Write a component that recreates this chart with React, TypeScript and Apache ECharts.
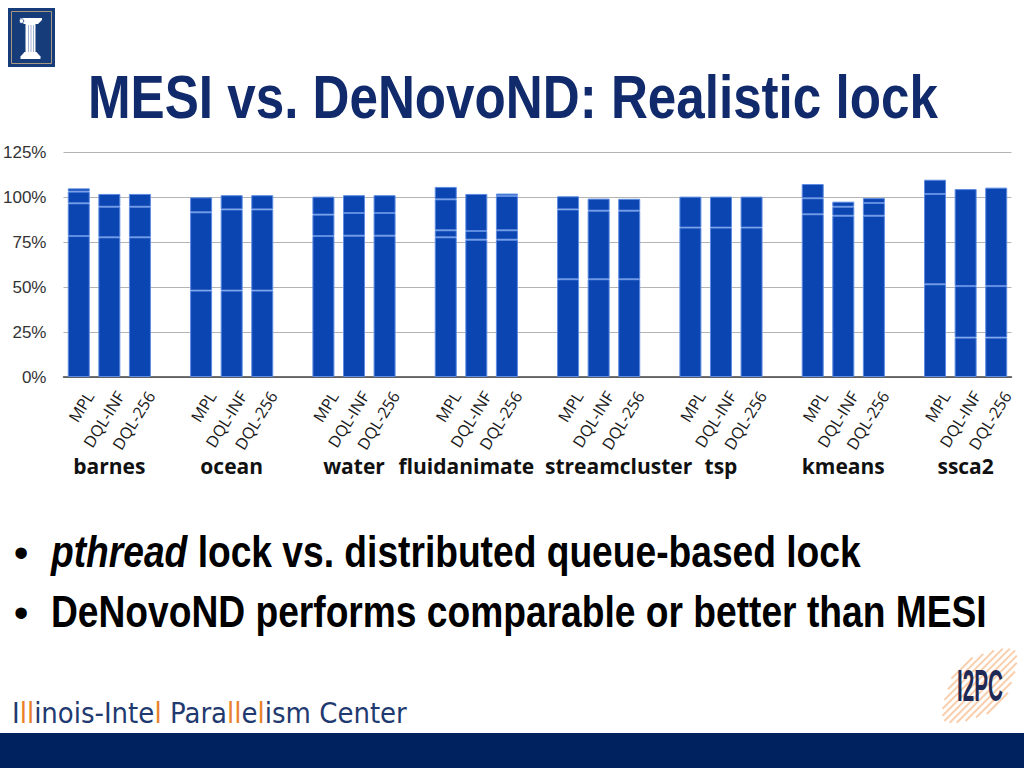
import React, { useEffect, useRef } from 'react';
import * as echarts from 'echarts';

const benchmarks = ['barnes', 'ocean', 'water', 'fluidanimate', 'streamcluster', 'tsp', 'kmeans', 'ssca2'];
const configs = ['MPL', 'DQL-INF', 'DQL-256'];
const yTicks = [0, 25, 50, 75, 100, 125];

// Stacked segment heights (%), bottom to top; order: benchmark x config
const segment1 = [78.3, 77.6, 77.6, 48, 48, 48, 78.3, 78.5, 78.5, 77.6, 76.3, 76.3, 54.3, 54.3, 54.3, 83, 83, 83, 90.4, 89.6, 89.6, 51.5, 21.9, 21.9];
const segment2 = [18.2, 17, 17, 43.5, 45.1, 45.1, 11.9, 12.6, 12.6, 3.9, 4.8, 5.2, 38.8, 38.1, 38.1, 17.2, 17.2, 17.2, 8.9, 5, 7.1, 50.2, 28.6, 28.6];
const segment3 = [6.5, 7.1, 7.1, 8.3, 7.9, 7.9, 10, 9.9, 9.9, 17.2, 20.6, 19.1, 7.3, 6.7, 6.6, null, null, null, 7.9, 2.8, 2.7, 7.9, 53.9, 54.7];
const segment4 = [1.8, null, null, null, null, null, null, null, null, 6.9, null, 1.3, null, null, null, null, null, null, null, null, null, null, null, null];

const groupLabelShift: Record<string, number[]> = {
  fluidanimate: [0, 20, 0, 0],
  streamcluster: [0, 0, 0, 40],
};

export default function App() {
  const ref = useRef<HTMLDivElement>(null);
  useEffect(() => {
    if (!ref.current) return;
    const chart = echarts.init(ref.current, undefined, { renderer: 'svg' });

    // Build slots: 3 bars per benchmark, a blank slot between groups
    const slotLabels: string[] = [];
    const groupSlots: any[] = [];
    const slotIndex: (number | null)[] = [];
    benchmarks.forEach((b, g) => {
      configs.forEach((c, ci) => {
        slotLabels.push(c);
        slotIndex.push(g * configs.length + ci);
        if (ci === 1) {
          const pad = groupLabelShift[b];
          groupSlots.push(pad ? { value: b, textStyle: { padding: pad } } : b);
        } else {
          groupSlots.push('');
        }
      });
      if (g < benchmarks.length - 1) {
        slotLabels.push('');
        slotIndex.push(null);
        groupSlots.push('');
      }
    });
    const mk = (arr: (number | null)[]) =>
      slotIndex.map((i) => (i === null || arr[i] === null ? '-' : arr[i]));

    const barStyle = {
      color: '#0b45b2',
      borderColor: '#5d8ce2',
      borderWidth: 1,
    };
    const segs = [segment1, segment2, segment3, segment4];

    const navy = '#1f3a70';
    const orange = '#e8822a';

    const stripes: any[] = [];
    const offs = [-24, -19, -14, -9, -4, 1, 6, 11, 16, 21, 26];
    const lens = [30, 50, 70, 85, 95, 100, 95, 85, 70, 50, 30];
    offs.forEach((o, k) => {
      const cx = 979 + 0.707 * o;
      const cy = 685 + 0.707 * o;
      const h = lens[k] / 2;
      stripes.push({
        type: 'line',
        shape: { x1: cx - 0.707 * h, y1: cy + 0.707 * h, x2: cx + 0.707 * h, y2: cy - 0.707 * h },
        style: { stroke: '#f0924a', lineWidth: 2, opacity: 0.45 },
      });
    });

    chart.setOption({
      animation: false,
      grid: { left: 62.5, right: 12.5, top: 152, bottom: 391 },
      xAxis: [
        {
          type: 'category',
          data: slotLabels,
          axisLine: { lineStyle: { color: '#444', width: 1.5 } },
          axisTick: { show: false },
          axisLabel: {
            interval: 0,
            rotate: 58,
            margin: 9,
            lineHeight: 26,
            formatter: (v: string) => (v ? '\n' + v : ''),
            fontFamily: 'Open Sans',
            fontSize: 16,
            color: '#1a1a1a',
          },
        },
        {
          type: 'category',
          data: groupSlots,
          position: 'bottom',
          gridIndex: 0,
          axisLine: { show: false },
          axisTick: { show: false },
          axisLabel: {
            interval: 0,
            margin: 78,
            fontFamily: 'Open Sans',
            fontWeight: 'bold',
            fontSize: 21,
            color: '#111',
          },
        },
      ],
      yAxis: {
        type: 'value',
        min: yTicks[0],
        max: yTicks[yTicks.length - 1],
        interval: 25,
        axisLine: { show: false },
        axisTick: { show: false },
        axisLabel: {
          formatter: '{value}%',
          margin: 17,
          fontFamily: 'Liberation Sans',
          fontSize: 17,
          color: '#333',
        },
        splitLine: { lineStyle: { color: '#b4b4b4', width: 1 } },
      },
      series: segs.map((s, i) => ({
        type: 'bar',
        name: 'seg' + (i + 1),
        stack: 'total',
        xAxisIndex: 0,
        barWidth: 22,
        data: mk(s),
        itemStyle: barStyle,
      })),
      graphic: [
        // bottom band
        { type: 'rect', shape: { x: 0, y: 733, width: 1024, height: 35 }, style: { fill: '#00235f' } },
        // Illinois logo
        {
          type: 'group',
          children: [
            { type: 'rect', shape: { x: 8, y: 8, width: 47, height: 59 }, style: { fill: '#163d7a' } },
            { type: 'rect', shape: { x: 11.5, y: 11.5, width: 40, height: 52 }, style: { fill: 'none', stroke: '#a89880', lineWidth: 1 } },
            { type: 'polygon', shape: { points: [[20, 18], [42, 18], [42, 20], [38, 24], [24, 24], [20, 21]] }, style: { fill: '#fff' } },
            { type: 'circle', shape: { cx: 21.5, cy: 21, r: 2.3 }, style: { fill: '#fff', stroke: '#163d7a', lineWidth: 0.8 } },
            { type: 'rect', shape: { x: 25.5, y: 24, width: 10, height: 29 }, style: { fill: '#fff' } },
            { type: 'line', shape: { x1: 28.5, y1: 25, x2: 28.5, y2: 52 }, style: { stroke: '#8aa0c8', lineWidth: 0.8 } },
            { type: 'line', shape: { x1: 31, y1: 25, x2: 31, y2: 52 }, style: { stroke: '#8aa0c8', lineWidth: 0.8 } },
            { type: 'line', shape: { x1: 33.5, y1: 25, x2: 33.5, y2: 52 }, style: { stroke: '#8aa0c8', lineWidth: 0.8 } },
            { type: 'polygon', shape: { points: [[24.5, 52], [36.5, 52], [40.5, 56.5], [40.5, 59], [20.5, 59], [20.5, 56.5]] }, style: { fill: '#fff' } },
          ],
        },
        // Title
        {
          type: 'group',
          x: 88,
          y: 96.6,
          scaleX: 0.825,
          children: [
            {
              type: 'text',
              style: {
                text: 'MESI vs. DeNovoND: Realistic lock',
                x: 0,
                y: 0,
                fontFamily: 'Liberation Sans',
                fontWeight: 'bold',
                fontSize: 62,
                fill: '#102a6b',
                align: 'left',
                verticalAlign: 'middle',
              },
            },
          ],
        },
        // Bullets
        { type: 'text', style: { text: '•', x: 21, y: 552, fontFamily: 'Liberation Sans', fontSize: 42, fill: '#000', align: 'center', verticalAlign: 'middle' } },
        { type: 'text', style: { text: '•', x: 21, y: 612, fontFamily: 'Liberation Sans', fontSize: 42, fill: '#000', align: 'center', verticalAlign: 'middle' } },
        {
          type: 'group',
          x: 51,
          y: 551.6,
          scaleX: 0.845,
          children: [
            {
              type: 'text',
              style: {
                text: '{i|pthread} {n|lock vs. distributed queue-based lock}',
                x: 0,
                y: 0,
                align: 'left',
                verticalAlign: 'middle',
                rich: {
                  i: { fontFamily: 'Liberation Sans', fontWeight: 'bold', fontStyle: 'italic', fontSize: 44, fill: '#000' },
                  n: { fontFamily: 'Liberation Sans', fontWeight: 'bold', fontSize: 44, fill: '#000' },
                },
                fontFamily: 'Liberation Sans',
                fontWeight: 'bold',
                fontSize: 44,
              },
            },
          ],
        },
        {
          type: 'group',
          x: 51,
          y: 611.6,
          scaleX: 0.845,
          children: [
            {
              type: 'text',
              style: {
                text: 'DeNovoND performs comparable or better than MESI',
                x: 0,
                y: 0,
                align: 'left',
                verticalAlign: 'middle',
                fontFamily: 'Liberation Sans',
                fontWeight: 'bold',
                fontSize: 44,
                fill: '#000',
              },
            },
          ],
        },
        // Footer
        {
          type: 'group',
          x: 12,
          y: 713.6,
          scaleX: 0.93,
          children: [
            {
              type: 'text',
              style: {
                text: '{n|I}{o|ll}{n|inois-Inte}{o|l}{n| Para}{o|ll}{n|e}{o|l}{n|ism Center}',
                x: 0,
                y: 0,
                align: 'left',
                verticalAlign: 'middle',
                fontFamily: 'DejaVu Sans',
                fontSize: 28,
                rich: {
                  n: { fontFamily: 'DejaVu Sans', fontSize: 28, fill: navy },
                  o: { fontFamily: 'DejaVu Sans', fontSize: 28, fill: orange },
                },
              },
            },
          ],
        },
        // I2PC logo
        { type: 'group', children: stripes },
        {
          type: 'group',
          x: 980,
          y: 686,
          scaleX: 0.47,
          children: [
            {
              type: 'text',
              style: {
                text: 'I2PC',
                x: 0,
                y: 0,
                align: 'center',
                verticalAlign: 'middle',
                fontFamily: 'Liberation Sans',
                fontWeight: 'bold',
                fontSize: 44,
                fill: '#1e2a55',
              },
            },
          ],
        },
      ],
    });
    return () => chart.dispose();
  }, []);
  return (
    <div
      ref={ref}
      style={{ position: 'fixed', left: 0, top: 0, width: 1024, height: 768, background: '#fff' }}
    />
  );
}
